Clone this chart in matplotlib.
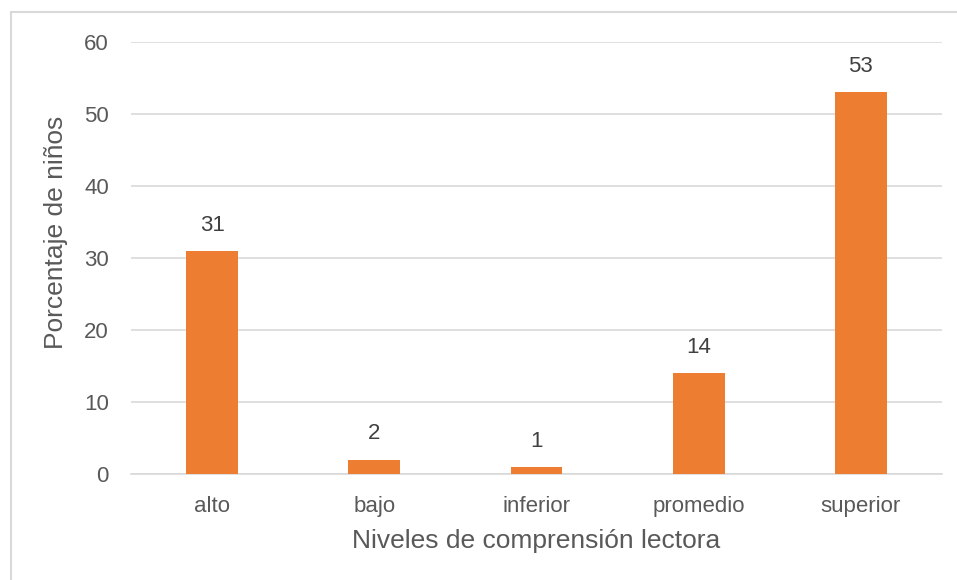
import matplotlib
matplotlib.use("Agg")
import matplotlib.pyplot as plt
from matplotlib.patches import Rectangle

categories = ["alto", "bajo", "inferior", "promedio", "superior"]
values = [31, 2, 1, 14, 53]
yticks = [0, 10, 20, 30, 40, 50, 60]

plt.rcParams['font.family'] = ['Liberation Sans', 'DejaVu Sans']
text_color = "#595959"

W, H = 957, 580
fig = plt.figure(figsize=(W / 100, H / 100), dpi=100)
fig.patches.append(Rectangle((11/W, -0.1), 2.0, 1 - 12/H + 0.1, transform=fig.transFigure,
                             fill=False, edgecolor="#D9D9D9", linewidth=1.5, zorder=0))
ax = fig.add_axes([131/W, 1 - 474/H, (942 - 131)/W, (474 - 42)/H])

x = list(range(len(categories)))
bars = ax.bar(x, values, width=0.32, color="#ED7D31", zorder=3)
for xi, v in zip(x, values):
    ax.annotate(str(v), (xi, v), xytext=(0, 11), textcoords="offset points",
                ha="center", va="bottom", fontsize=16, color="#404040")

ax.set_xlim(-0.5, len(categories) - 0.5)
ax.set_ylim(0, 60)
ax.set_yticks(yticks)
ax.set_xticks(x)
ax.set_xticklabels(categories)
ax.tick_params(axis="both", length=0, labelsize=16, labelcolor=text_color)
ax.tick_params(axis="y", pad=16)
ax.tick_params(axis="x", pad=16)
ax.yaxis.grid(True, color="#D9D9D9", linewidth=1.2, zorder=0)
for s in ["top", "right", "left"]:
    ax.spines[s].set_visible(False)
ax.spines["bottom"].set_color("#D9D9D9")
ax.spines["bottom"].set_linewidth(1.2)

fig.text(56/W, 1 - 232/H, "Porcentaje de niños", rotation=90, fontsize=19,
         color=text_color, ha="center", va="center")
fig.text(536/W, 1 - 548/H, "Niveles de comprensión lectora", fontsize=19,
         color=text_color, ha="center", va="baseline")

fig.savefig("out.png", dpi=100)
